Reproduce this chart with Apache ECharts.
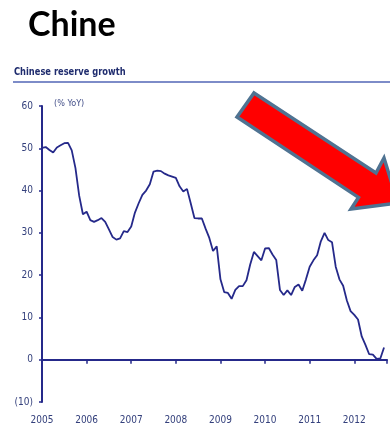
<!DOCTYPE html>
<html>
<head>
<meta charset="utf-8">
<style>
  html, body { margin: 0; padding: 0; background: #ffffff; }
  #chart { width: 390px; height: 432px; }
</style>
<script src="https://cdn.jsdelivr.net/npm/echarts@6/dist/echarts.min.js"></script>
</head>
<body>
<div id="chart"></div>
<script>
// Year-on-year growth of Chinese FX reserves, monthly from Jan 2005
const startYear = 2005;
const growth = [
  50.1, 50.3, 49.6, 49.0, 50.2, 50.7, 51.2, 51.3, 49.5, 45.3, 38.8, 34.4,
  35.0, 33.0, 32.6, 33.0, 33.5, 32.6, 30.8, 29.0, 28.4, 28.7, 30.4, 30.2,
  31.5, 34.8, 37.0, 39.0, 40.0, 41.5, 44.5, 44.7, 44.6, 44.0, 43.6, 43.3,
  43.0, 41.0, 39.8, 40.4, 37.0, 33.5, 33.4, 33.4, 31.0, 28.8, 25.7, 26.8,
  19.0, 16.0, 15.8, 14.4, 16.5, 17.4, 17.4, 18.8, 22.5, 25.5, 24.5, 23.5,
  26.3, 26.4, 24.9, 23.6, 16.5, 15.3, 16.4, 15.3, 17.2, 17.8, 16.3, 19.0,
  22.0, 23.5, 24.7, 28.0, 30.0, 28.3, 27.8, 22.0, 19.0, 17.5, 14.0, 11.5,
  10.6, 9.5, 5.5, 3.5, 1.3, 1.2, 0.2, 0.3, 2.9
];
const yearTicks = [2005, 2006, 2007, 2008, 2009, 2010, 2011, 2012];
const yTicks = [-10, 0, 10, 20, 30, 40, 50, 60];

const seriesData = growth.map((v, i) => [startYear + i / 12, v]);

const navy = '#25298a';
const labelColor = '#34407c';
const axisFont = 'DejaVu Sans Condensed';

const chart = echarts.init(document.getElementById('chart'), null, { renderer: 'canvas' });

const xCommon = {
  type: 'value',
  min: 2005,
  max: 2012.733,
  interval: 1,
  splitLine: { show: false }
};

chart.setOption({
  animation: false,
  backgroundColor: '#ffffff',
  grid: { left: 42, right: 0, top: 106, bottom: 30, containLabel: false },
  xAxis: [
    Object.assign({}, xCommon, {
      axisLine: { onZero: true, lineStyle: { color: navy, width: 2 } },
      axisTick: { show: true, inside: false, length: 4, lineStyle: { color: navy, width: 1.5 } },
      axisLabel: { show: false }
    }),
    Object.assign({}, xCommon, {
      position: 'bottom',
      axisLine: { show: false, onZero: false },
      axisTick: { show: false },
      axisLabel: {
        show: true, margin: 13, color: labelColor,
        fontFamily: axisFont, fontSize: 10,
        formatter: v => yearTicks.includes(Math.round(v)) ? String(Math.round(v)) : ''
      }
    })
  ],
  yAxis: {
    type: 'value',
    min: -10, max: 60, interval: 10,
    splitLine: { show: false },
    axisLine: { show: true, onZero: false, lineStyle: { color: navy, width: 2 } },
    axisTick: { show: true, length: 3, lineStyle: { color: navy, width: 1.5 } },
    axisLabel: {
      margin: 9, color: labelColor, fontFamily: axisFont, fontSize: 10,
      formatter: v => yTicks.includes(v) ? (v < 0 ? '(' + Math.abs(v) + ')' : String(v)) : ''
    }
  },
  series: [{
    type: 'line',
    xAxisIndex: 0,
    data: seriesData,
    showSymbol: false,
    smooth: false,
    lineStyle: { color: navy, width: 1.8 }
  }],
  graphic: [
    {
      type: 'text', left: 28, top: 8,
      style: { text: 'Chine', font: 'bold 34px Lato', fill: '#000000' }
    },
    {
      type: 'text', x: 14, y: 67, scaleX: 0.88,
      style: { text: 'Chinese reserve growth', font: 'bold 10.5px "DejaVu Sans Condensed"', fill: '#1f2c6e' }
    },
    {
      type: 'line',
      shape: { x1: 13, y1: 82, x2: 390, y2: 82 },
      style: { stroke: '#7d8cc8', lineWidth: 2 }
    },
    {
      type: 'text', left: 54, top: 99,
      style: { text: '(% YoY)', font: '9px "DejaVu Sans Condensed"', fill: '#44508a' }
    },
    {
      type: 'polygon',
      shape: {
        points: [[254, 93], [376, 173], [384, 158], [398, 203], [351, 209], [358.5, 197.4], [237, 117]]
      },
      style: { fill: '#ff0000', stroke: '#4f7392', lineWidth: 3.5, lineJoin: 'miter' }
    }
  ]
});
</script>
</body>
</html>
